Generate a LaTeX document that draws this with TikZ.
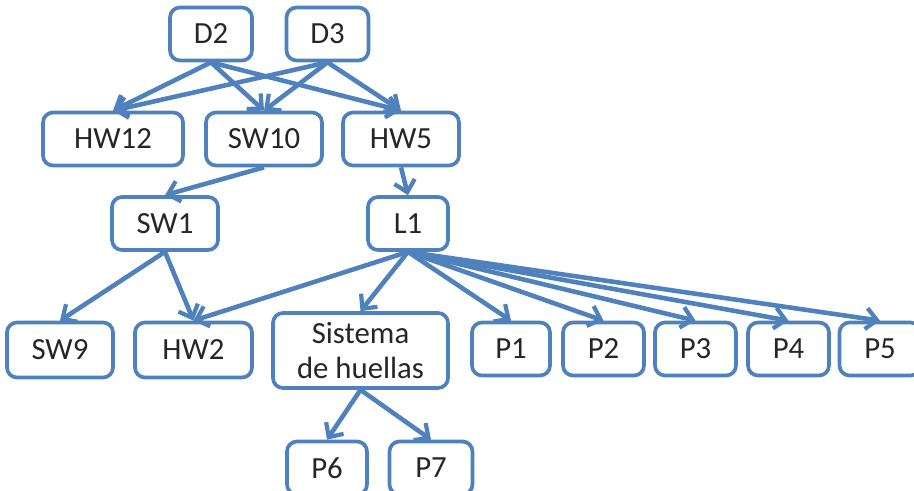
\documentclass[tikz,border=0pt]{standalone}
\usepackage{fontspec}
\setmainfont{Carlito}
\usetikzlibrary{arrows.meta}
\definecolor{boxblue}{HTML}{4F81BD}
\begin{document}
\begin{tikzpicture}

\tikzset{box/.style = {shape=rectangle, draw=boxblue, line width=2.1pt, rounded corners=0.2cm,
  fill=white, inner sep=0pt, minimum height=1.06cm, align=center,
  text=black!85, font=\fontsize{17.5}{20}\selectfont}}
\tikzset{link/.style = {draw=boxblue, line width=2.6pt,
  -{Straight Barb[length=0.22cm, width=0.42cm, line width=2.4pt]}}}
\useasboundingbox (0,0) rectangle (18.28,9.8);
\clip (0,0) rectangle (18.28,9.8);
% top rows
\node[box, minimum width=1.64cm] (d2) at (4.22,9.12) {D2};
\node[box, minimum width=1.64cm] (d3) at (6.55,9.12) {D3};
\node[box, minimum width=2.8cm] (hw12) at (2.26,7.02) {HW12};
\node[box, minimum width=2.32cm] (sw10) at (5.28,7.02) {SW10};
\node[box, minimum width=2.32cm] (hw5) at (8.02,7.02) {HW5};
\node[box, minimum width=2.12cm] (sw1) at (3.30,5.33) {SW1};
\node[box, minimum width=1.6cm] (l1) at (8.16,5.33) {L1};
% bottom rows
\node[box, minimum width=2.12cm, minimum height=1.1cm] (sw9) at (1.20,2.80) {SW9};
\node[box, minimum width=2.34cm, minimum height=1.1cm] (hw2) at (3.87,2.80) {HW2};
\node[box, minimum width=3.5cm, minimum height=1.5cm] (sh) at (7.21,2.79) {Sistema\\de huellas};
\node[box, minimum width=1.56cm] (p1) at (10.22,2.82) {P1};
\node[box, minimum width=1.62cm] (p2) at (12.07,2.82) {P2};
\node[box, minimum width=1.62cm] (p3) at (13.91,2.82) {P3};
\node[box, minimum width=1.62cm] (p4) at (15.77,2.82) {P4};
\node[box, minimum width=1.62cm] (p5) at (17.60,2.82) {P5};
\node[box, minimum width=1.6cm] (p6) at (6.54,0.44) {P6};
\node[box, minimum width=1.66cm] (p7) at (8.62,0.44) {P7};
%edges
\path (d2.south) edge[link] (hw12.north);
\path (d2.south) edge[link] (sw10.north);
\path (d2.south) edge[link] (hw5.north);
\path (d3.south) edge[link] (hw12.north);
\path (d3.south) edge[link] (sw10.north);
\path (d3.south) edge[link] (hw5.north);
\path (sw10.south) edge[link] (sw1.north);
\path (hw5.south) edge[link] (l1.north);
\path (sw1.south) edge[link] (sw9.north);
\path (sw1.south) edge[link] (hw2.north);
\path (l1.south) edge[link] (hw2.north);
\path (l1.south) edge[link] (sh.north);
\foreach \p in {p1,p2,p3,p4,p5}
  \path (l1.south) edge[link] (\p.north);
\path (sh.south) edge[link] (p6.north);
\path (sh.south) edge[link] (p7.north);
\end{tikzpicture}
\end{document}
